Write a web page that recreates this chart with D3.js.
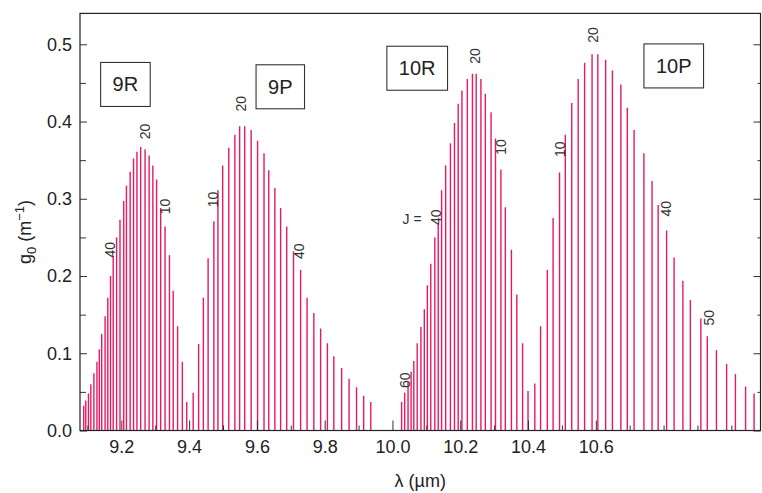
<!DOCTYPE html>
<html>
<head>
<meta charset="utf-8">
<script src="https://cdn.jsdelivr.net/npm/d3@7"></script>
<style>
  body { margin: 0; background: #fff; }
  svg { display: block; font-family: "Liberation Sans", Arial, sans-serif; }
</style>
</head>
<body>
<div id="chart"></div>
<script>
// CO2 laser lines: wavelength (um) and small-signal gain g0 (1/m), per branch
const wl9R = [9.089, 9.095, 9.103, 9.110, 9.119, 9.128, 9.135, 9.142, 9.152, 9.160, 9.168, 9.176, 9.186, 9.196, 9.207, 9.215,
  9.226, 9.236, 9.246, 9.257, 9.270, 9.282, 9.293, 9.304, 9.316, 9.329, 9.342, 9.353, 9.366, 9.380, 9.393];
const g9R = [0.032, 0.039, 0.048, 0.060, 0.074, 0.089, 0.105, 0.125, 0.148, 0.172, 0.200, 0.226, 0.250, 0.273, 0.297, 0.317,
  0.335, 0.352, 0.361, 0.367, 0.364, 0.356, 0.343, 0.325, 0.288, 0.264, 0.227, 0.181, 0.135, 0.089, 0.037];

const wl9P = [9.412, 9.428, 9.442, 9.456, 9.473, 9.485, 9.499, 9.517, 9.535, 9.549, 9.564, 9.583, 9.602, 9.621, 9.635,
  9.653, 9.670, 9.688, 9.708, 9.729, 9.748, 9.768, 9.788, 9.808, 9.827, 9.850, 9.872, 9.894, 9.915, 9.936];
const g9P = [0.049, 0.112, 0.172, 0.223, 0.271, 0.311, 0.343, 0.366, 0.383, 0.394, 0.394, 0.389, 0.375, 0.359, 0.337,
  0.314, 0.288, 0.264, 0.232, 0.208, 0.172, 0.152, 0.132, 0.113, 0.096, 0.081, 0.067, 0.056, 0.045, 0.037];

const wl10R = [10.027, 10.036, 10.046, 10.055, 10.063, 10.073, 10.084, 10.094, 10.103, 10.113, 10.125, 10.135, 10.145,
  10.157, 10.171, 10.183, 10.194, 10.205, 10.221, 10.236, 10.247, 10.261, 10.274, 10.291, 10.304, 10.320, 10.333, 10.351,
  10.367, 10.384, 10.400];
const g10R = [0.037, 0.049, 0.063, 0.076, 0.090, 0.113, 0.134, 0.157, 0.188, 0.216, 0.250, 0.268, 0.311,
  0.343, 0.372, 0.398, 0.423, 0.440, 0.455, 0.462, 0.462, 0.455, 0.436, 0.412, 0.378, 0.338, 0.289, 0.234,
  0.176, 0.113, 0.051];

const wl10P = [10.420, 10.437, 10.457, 10.474, 10.493, 10.510, 10.529, 10.548, 10.567, 10.589, 10.606, 10.629, 10.649,
  10.674, 10.693, 10.713, 10.742, 10.766, 10.784, 10.809, 10.831, 10.857, 10.879, 10.910, 10.929, 10.956, 10.986, 11.012,
  11.042, 11.067];
const g10P = [0.061, 0.135, 0.208, 0.275, 0.334, 0.383, 0.424, 0.455, 0.476, 0.487, 0.487, 0.480, 0.466,
  0.448, 0.418, 0.389, 0.359, 0.323, 0.292, 0.259, 0.224, 0.194, 0.169, 0.145, 0.122, 0.104, 0.086, 0.073,
  0.057, 0.048];

// branch boxes (centre in data units)
const branchNames = ['9R', '9P', '10R', '10P'];
const branchWl = [9.212, 9.669, 10.073, 10.830];
const branchG = [0.448, 0.445, 0.469, 0.472];

// rotational quantum number labels (centre in data units)
const jText = ['20', '10', '40', '20', '10', '40', '20', '10', '40', '60', '20', '10', '40', '50'];
const jWl = [9.269, 9.328, 9.166, 9.552, 9.471, 9.725, 10.243, 10.320, 10.128, 10.036, 10.591, 10.495, 10.806, 10.933];
const jG = [0.387, 0.290, 0.234, 0.423, 0.299, 0.232, 0.485, 0.367, 0.276, 0.065, 0.512, 0.364, 0.287, 0.146];

// tick labels
const xTickLabels = [9.2, 9.4, 9.6, 9.8, 10.0, 10.2, 10.4, 10.6];
const xMinorTicks = [9.1, 9.3, 9.5, 9.7, 9.9, 10.1, 10.3, 10.5, 10.7, 10.8, 10.9, 11.0];
const yTickLabels = [0.0, 0.1, 0.2, 0.3, 0.4, 0.5];
const yMinorTicks = [0.05, 0.15, 0.25, 0.35, 0.45];

const width = 762, height = 493;
const plotLeft = 80, plotRight = 760.5, plotTop = 13.4, plotBottom = 430.5;

const x = d3.scaleLinear().domain([9.078, 11.086]).range([plotLeft, plotRight]);
const y = d3.scaleLinear().domain([0, 0.54]).range([plotBottom, plotTop]);

const svg = d3.select('#chart').append('svg')
  .attr('width', width)
  .attr('height', height);

// stems
const lines = [];
[[wl9R, g9R], [wl9P, g9P], [wl10R, g10R], [wl10P, g10P]].forEach(([wl, g]) => {
  wl.forEach((w, i) => lines.push({ w: w, g: g[i] }));
});

svg.append('g')
  .selectAll('line')
  .data(lines)
  .enter()
  .append('line')
  .attr('x1', d => x(d.w))
  .attr('x2', d => x(d.w))
  .attr('y1', y(0))
  .attr('y2', d => y(d.g))
  .attr('stroke', '#e8195f')
  .attr('stroke-width', 1.4);

// axes: ticks point inward, frame drawn separately
const tickColor = '#333';
const styleAxis = g => {
  g.select('.domain').remove();
  g.selectAll('line').attr('stroke', tickColor);
  g.selectAll('text').style('font-size', '18px').attr('fill', '#222');
};

svg.append('g')
  .attr('transform', `translate(0,${plotBottom})`)
  .call(d3.axisBottom(x).tickValues(xTickLabels).tickSize(-10).tickPadding(10).tickFormat(d3.format('.1f')))
  .call(styleAxis);
svg.append('g')
  .attr('transform', `translate(0,${plotBottom})`)
  .call(d3.axisBottom(x).tickValues(xMinorTicks).tickSize(-5).tickFormat(''))
  .call(styleAxis);

svg.append('g')
  .attr('transform', `translate(${plotLeft},0)`)
  .call(d3.axisLeft(y).tickValues(yTickLabels).tickSize(-7).tickPadding(8).tickFormat(d3.format('.1f')))
  .call(styleAxis);
svg.append('g')
  .attr('transform', `translate(${plotLeft},0)`)
  .call(d3.axisLeft(y).tickValues(yMinorTicks).tickSize(-6).tickFormat(''))
  .call(styleAxis);

svg.append('g')
  .attr('transform', `translate(${plotRight},0)`)
  .call(d3.axisRight(y).tickValues(yTickLabels).tickSize(-7).tickFormat(''))
  .call(styleAxis);
svg.append('g')
  .attr('transform', `translate(${plotRight},0)`)
  .call(d3.axisRight(y).tickValues(yMinorTicks).tickSize(-3).tickFormat(''))
  .call(styleAxis);

svg.append('rect')
  .attr('x', plotLeft)
  .attr('y', plotTop)
  .attr('width', plotRight - plotLeft)
  .attr('height', plotBottom - plotTop)
  .attr('fill', 'none')
  .attr('stroke', '#222')
  .attr('stroke-width', 1.2);

// branch labels in boxes
branchNames.forEach((name, i) => {
  const cx = x(branchWl[i]), cy = y(branchG[i]);
  const g = svg.append('g');
  const t = g.append('text')
    .attr('x', cx)
    .attr('y', cy)
    .attr('text-anchor', 'middle')
    .attr('dominant-baseline', 'central')
    .style('font-size', '20px')
    .attr('fill', '#222')
    .text(name);
  const w = t.node().getComputedTextLength() + 24;
  g.insert('rect', 'text')
    .attr('x', cx - w / 2)
    .attr('y', cy - 22)
    .attr('width', w)
    .attr('height', 44)
    .attr('fill', '#fff')
    .attr('stroke', '#333')
    .attr('stroke-width', 1.1);
});

// J labels, rotated
jText.forEach((t, i) => {
  const cx = x(jWl[i]), cy = y(jG[i]);
  svg.append('text')
    .attr('transform', `translate(${cx},${cy}) rotate(-90)`)
    .attr('text-anchor', 'middle')
    .attr('dominant-baseline', 'central')
    .style('font-size', '14px')
    .attr('fill', '#333')
    .text(t);
});

svg.append('text')
  .attr('x', x(10.058))
  .attr('y', y(0.274))
  .attr('text-anchor', 'middle')
  .attr('dominant-baseline', 'central')
  .style('font-size', '14px')
  .attr('fill', '#333')
  .text('J =');

// axis titles
svg.append('text')
  .attr('x', (plotLeft + plotRight) / 2)
  .attr('y', 487)
  .attr('text-anchor', 'middle')
  .style('font-size', '18px')
  .attr('fill', '#222')
  .text('λ (µm)');

const yTitle = svg.append('text')
  .attr('transform', 'translate(31,232) rotate(-90)')
  .attr('text-anchor', 'middle')
  .style('font-size', '18px')
  .attr('fill', '#222');
yTitle.append('tspan').text('g');
yTitle.append('tspan').attr('dy', 5).style('font-size', '13px').text('0');
yTitle.append('tspan').attr('dy', -5).text(' (m');
yTitle.append('tspan').attr('dy', -7).style('font-size', '13px').text('−1');
yTitle.append('tspan').attr('dy', 7).text(')');
</script>
</body>
</html>
